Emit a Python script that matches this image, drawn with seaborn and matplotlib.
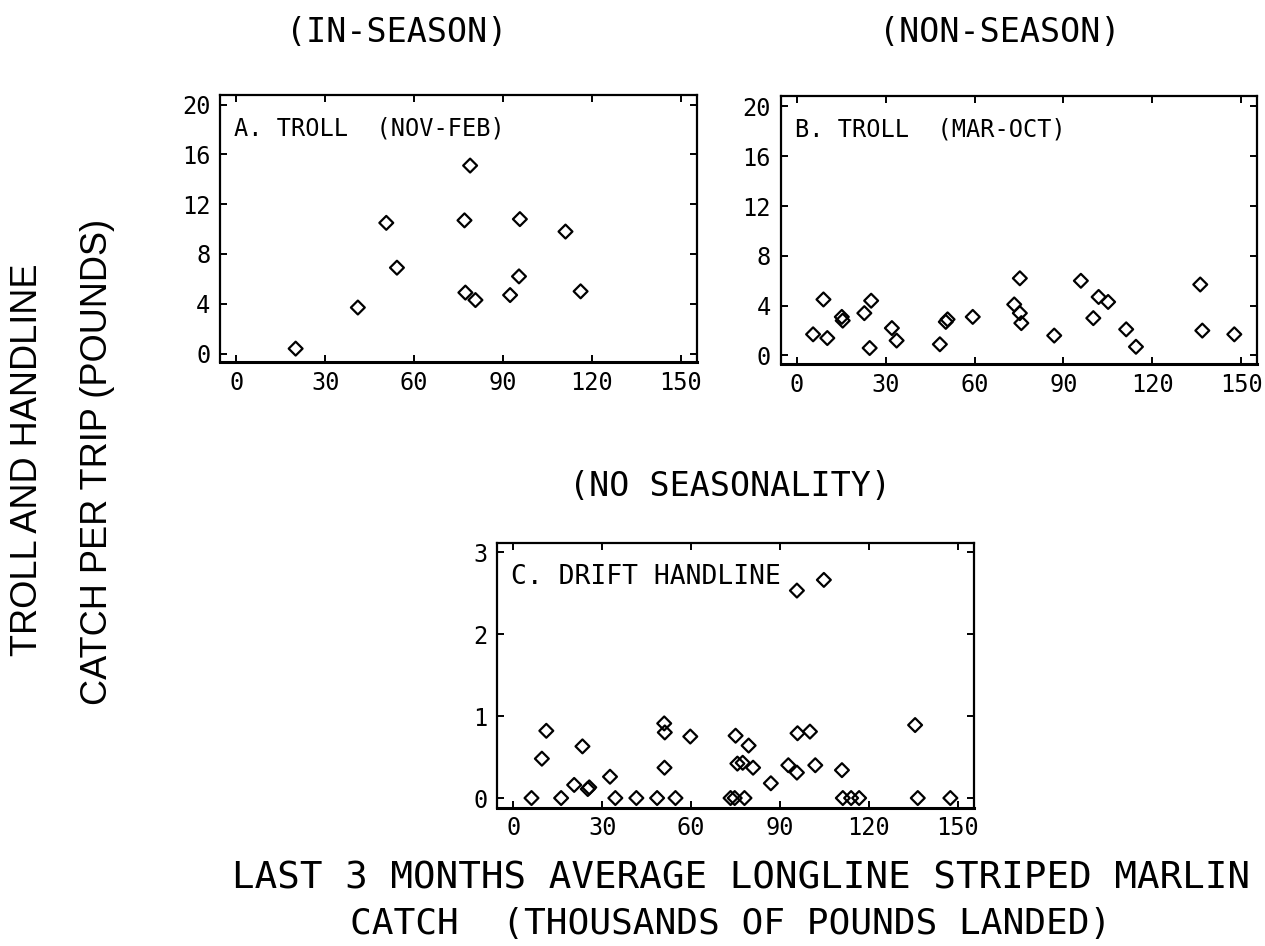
import matplotlib
matplotlib.use("Agg")
import matplotlib.pyplot as plt
import seaborn as sns
import pandas as pd

# Panel A: troll, in-season (Nov-Feb)
troll_in_x = [20, 41, 50.6, 54.2, 77.0, 78.9, 77.3, 80.7, 92.4, 95.7, 95.4, 111.1, 116.2]
troll_in_y = [0.4, 3.7, 10.5, 6.9, 10.7, 15.1, 4.9, 4.3, 4.7, 10.8, 6.2, 9.8, 5.0]

# Panel B: troll, non-season (Mar-Oct)
troll_non_x = [5.5, 9.0, 10.3, 15.2, 15.5, 22.8, 25.1, 24.6, 32.1, 33.7, 48.3, 50.3,
               50.9, 59.4, 73.4, 75.3, 75.3, 75.8, 86.9, 95.9, 100.1, 101.9, 105.1,
               111.2, 114.5, 136.2, 136.9, 147.7]
troll_non_y = [1.7, 4.5, 1.4, 3.1, 2.8, 3.4, 4.4, 0.6, 2.2, 1.2, 0.9, 2.7,
               2.9, 3.1, 4.1, 6.2, 3.4, 2.6, 1.6, 6.0, 3.0, 4.7, 4.3,
               2.1, 0.7, 5.7, 2.0, 1.7]

# Panel C: drift handline, no seasonality
drift_x = [6.1, 9.6, 11.1, 16.1, 20.5, 23.3, 25.1, 25.6, 32.6, 34.4, 41.5, 48.5,
           50.9, 51.1, 51.0, 54.7, 59.7, 73.3, 74.7, 75.0, 75.6, 77.4, 78.0, 79.4,
           80.9, 86.9, 92.8, 95.7, 95.9, 95.7, 100.1, 101.9, 104.8, 110.9, 111.2,
           114.0, 116.7, 135.6, 136.5, 147.5]
drift_y = [0, 0.48, 0.82, 0, 0.16, 0.63, 0.11, 0.13, 0.26, 0, 0, 0,
           0.91, 0.80, 0.37, 0, 0.75, 0, 0, 0.76, 0.42, 0.43, 0, 0.64,
           0.37, 0.18, 0.40, 2.53, 0.79, 0.31, 0.81, 0.40, 2.66, 0.34, 0,
           0, 0, 0.89, 0, 0]

x_ticks = [0, 30, 60, 90, 120, 150]
troll_y_ticks = [0, 4, 8, 12, 16, 20]
drift_y_ticks = [0, 1, 2, 3]

sns.set_theme(style="ticks")
plt.rcParams["font.family"] = ["DejaVu Sans Mono"]
plt.rcParams["text.color"] = "black"
plt.rcParams["axes.labelcolor"] = "black"
plt.rcParams["xtick.color"] = "black"
plt.rcParams["ytick.color"] = "black"

fig = plt.figure(figsize=(12.65, 9.46), dpi=100)
fig.patch.set_facecolor("white")

ax_a = fig.add_axes([0.174, 0.617, 0.377, 0.283])
ax_b = fig.add_axes([0.617, 0.615, 0.377, 0.283])
ax_c = fig.add_axes([0.393, 0.146, 0.377, 0.280])


def draw(ax, xs, ys, yticks, ylim, label, label_size):
    df = pd.DataFrame({"x": xs, "y": ys})
    sns.scatterplot(data=df, x="x", y="y", ax=ax, marker="D", s=50,
                    facecolor="none", edgecolor="black", linewidth=1.6,
                    legend=False)
    ax.set_xlim(-5.5, 155.5)
    ax.set_ylim(*ylim)
    ax.set_xticks(x_ticks)
    ax.set_yticks(yticks)
    ax.set_xlabel("")
    ax.set_ylabel("")
    ax.tick_params(direction="in", length=5, width=1.4, top=True, right=True,
                   labelsize=17, colors="black")
    ax.tick_params(axis="y", pad=7)
    ax.tick_params(axis="x", pad=6)
    for sp in ax.spines.values():
        sp.set_linewidth(1.6)
        sp.set_color("black")
    ax.spines["bottom"].set_linewidth(2.2)
    ax.text(0.03, 0.92, label, transform=ax.transAxes, fontsize=label_size,
            ha="left", va="top", color="black")
    ax.set_facecolor("white")


draw(ax_a, troll_in_x, troll_in_y, troll_y_ticks, (-0.7, 20.8), "A. TROLL  (NOV-FEB)", 17)
draw(ax_b, troll_non_x, troll_non_y, troll_y_ticks, (-0.7, 20.8), "B. TROLL  (MAR-OCT)", 17)
draw(ax_c, drift_x, drift_y, drift_y_ticks, (-0.12, 3.11), "C. DRIFT HANDLINE", 19)

fig.text(397 / 1265, 1 - 32 / 946, "(IN-SEASON)", fontsize=24, ha="center", va="center")
fig.text(1000 / 1265, 1 - 32 / 946, "(NON-SEASON)", fontsize=24, ha="center", va="center")
fig.text(730 / 1265, 1 - 487 / 946, "(NO SEASONALITY)", fontsize=24, ha="center", va="center")

fig.text(741 / 1265, 1 - 878 / 946, "LAST 3 MONTHS AVERAGE LONGLINE STRIPED MARLIN",
         fontsize=27, ha="center", va="center")
fig.text(731 / 1265, 1 - 924 / 946, "CATCH  (THOUSANDS OF POUNDS LANDED)",
         fontsize=26, ha="center", va="center")

fig.text(28 / 1265, 1 - 460 / 946, "TROLL AND HANDLINE", rotation=90,
         fontsize=26, ha="center", va="center", family=["Liberation Sans"])
fig.text(98 / 1265, 1 - 462 / 946, "CATCH PER TRIP (POUNDS)", rotation=90,
         fontsize=26, ha="center", va="center", family=["Liberation Sans"])

fig.savefig("out.png", dpi=100, facecolor="white")
